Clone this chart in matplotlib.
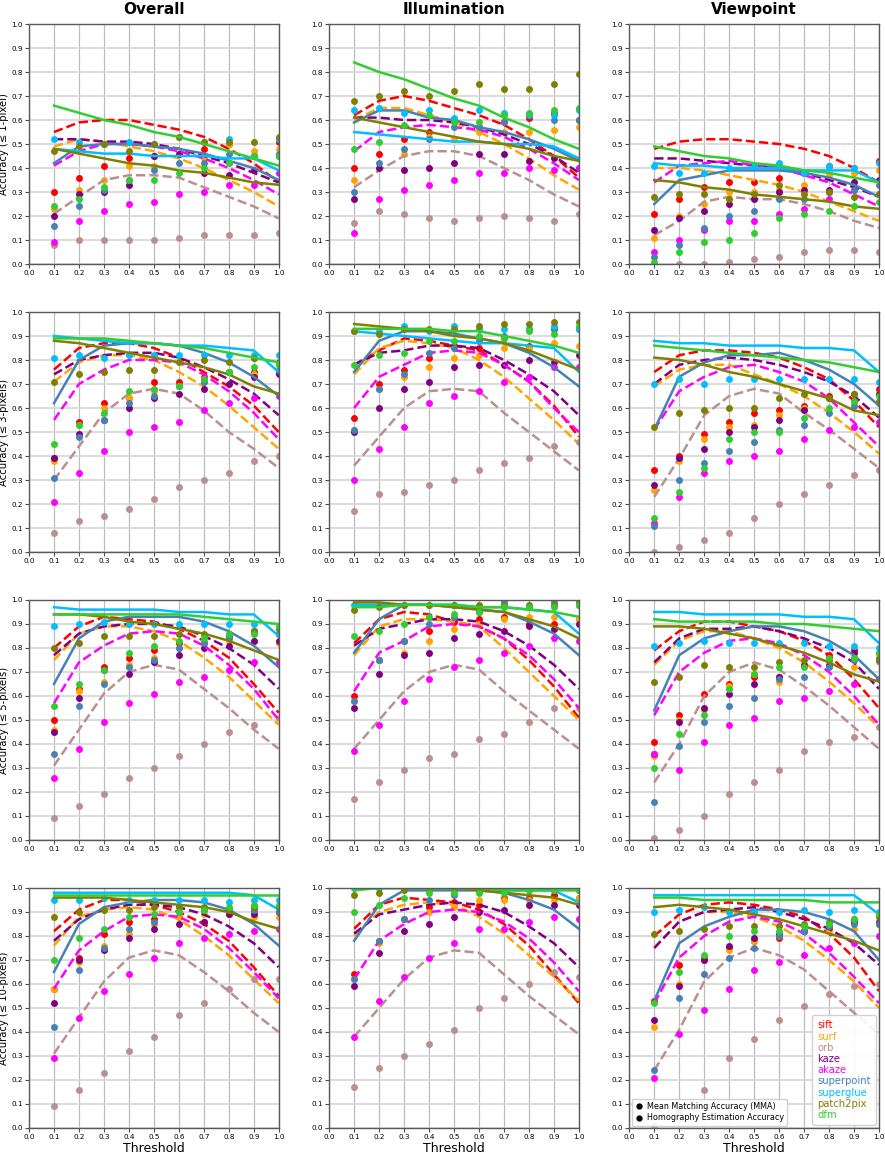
import matplotlib
matplotlib.use("Agg")
import matplotlib.pyplot as plt
from matplotlib.lines import Line2D

thresholds = [0.1, 0.2, 0.3, 0.4, 0.5, 0.6, 0.7, 0.8, 0.9, 1.0]
methods = ["sift", "surf", "orb", "kaze", "akaze", "superpoint", "superglue", "patch2pix", "dfm"]
colors = ["red", "orange", "rosybrown", "purple", "magenta", "steelblue", "deepskyblue", "olive", "limegreen"]
dashed = ["sift", "surf", "orb", "kaze", "akaze"]
columns = ["Overall", "Illumination", "Viewpoint"]
ylabels = ["Accuracy (≤ 1-pixel)", "Accuracy (≤ 3-pixels)", "Accuracy (≤ 5-pixels)", "Accuracy (≤ 10-pixels)"]

# ---------- Mean Matching Accuracy (lines) ----------
mma_overall_1 = {
    "sift": [0.55, 0.59, 0.60, 0.60, 0.58, 0.56, 0.53, 0.48, 0.42, 0.34],
    "surf": [0.49, 0.52, 0.51, 0.49, 0.47, 0.44, 0.40, 0.35, 0.30, 0.24],
    "orb": [0.21, 0.28, 0.35, 0.37, 0.37, 0.36, 0.32, 0.28, 0.24, 0.19],
    "kaze": [0.52, 0.52, 0.51, 0.51, 0.50, 0.48, 0.45, 0.42, 0.38, 0.34],
    "akaze": [0.41, 0.47, 0.50, 0.50, 0.49, 0.47, 0.44, 0.40, 0.35, 0.29],
    "superpoint": [0.42, 0.49, 0.50, 0.50, 0.49, 0.48, 0.46, 0.43, 0.40, 0.35],
    "superglue": [0.48, 0.47, 0.46, 0.46, 0.45, 0.45, 0.45, 0.44, 0.44, 0.39],
    "patch2pix": [0.48, 0.46, 0.44, 0.42, 0.41, 0.39, 0.38, 0.36, 0.34, 0.33],
    "dfm": [0.66, 0.63, 0.60, 0.58, 0.55, 0.53, 0.50, 0.47, 0.44, 0.41],
}
mma_illum_1 = {
    "sift": [0.62, 0.68, 0.70, 0.68, 0.65, 0.62, 0.58, 0.52, 0.45, 0.36],
    "surf": [0.60, 0.65, 0.65, 0.62, 0.59, 0.55, 0.50, 0.44, 0.37, 0.31],
    "orb": [0.32, 0.39, 0.45, 0.47, 0.47, 0.45, 0.40, 0.35, 0.29, 0.24],
    "kaze": [0.61, 0.61, 0.60, 0.60, 0.59, 0.57, 0.54, 0.50, 0.45, 0.38],
    "akaze": [0.47, 0.55, 0.57, 0.58, 0.57, 0.56, 0.53, 0.48, 0.42, 0.35],
    "superpoint": [0.59, 0.64, 0.64, 0.61, 0.60, 0.57, 0.55, 0.52, 0.48, 0.43],
    "superglue": [0.55, 0.54, 0.53, 0.52, 0.51, 0.51, 0.50, 0.50, 0.49, 0.44],
    "patch2pix": [0.61, 0.59, 0.57, 0.55, 0.53, 0.51, 0.50, 0.48, 0.45, 0.43],
    "dfm": [0.84, 0.80, 0.77, 0.73, 0.69, 0.66, 0.61, 0.57, 0.52, 0.48],
}
mma_view_1 = {
    "sift": [0.48, 0.51, 0.52, 0.52, 0.51, 0.50, 0.48, 0.45, 0.40, 0.34],
    "surf": [0.40, 0.40, 0.39, 0.37, 0.35, 0.33, 0.30, 0.26, 0.22, 0.18],
    "orb": [0.12, 0.18, 0.26, 0.28, 0.27, 0.27, 0.25, 0.22, 0.18, 0.15],
    "kaze": [0.44, 0.44, 0.43, 0.42, 0.41, 0.40, 0.38, 0.35, 0.32, 0.28],
    "akaze": [0.34, 0.41, 0.42, 0.43, 0.41, 0.40, 0.37, 0.34, 0.29, 0.24],
    "superpoint": [0.25, 0.35, 0.37, 0.39, 0.39, 0.39, 0.38, 0.36, 0.33, 0.28],
    "superglue": [0.42, 0.41, 0.41, 0.40, 0.40, 0.40, 0.39, 0.39, 0.39, 0.34],
    "patch2pix": [0.35, 0.34, 0.32, 0.31, 0.29, 0.28, 0.27, 0.26, 0.24, 0.23],
    "dfm": [0.49, 0.47, 0.45, 0.44, 0.42, 0.41, 0.39, 0.38, 0.36, 0.34],
}
mma_overall_3 = {
    "sift": [0.76, 0.85, 0.87, 0.87, 0.85, 0.81, 0.75, 0.69, 0.61, 0.50],
    "surf": [0.71, 0.79, 0.82, 0.82, 0.80, 0.75, 0.69, 0.61, 0.52, 0.43],
    "orb": [0.30, 0.44, 0.58, 0.66, 0.68, 0.66, 0.59, 0.50, 0.43, 0.35],
    "kaze": [0.74, 0.80, 0.82, 0.83, 0.83, 0.81, 0.77, 0.72, 0.66, 0.57],
    "akaze": [0.55, 0.70, 0.76, 0.80, 0.80, 0.79, 0.74, 0.67, 0.58, 0.47],
    "superpoint": [0.62, 0.80, 0.86, 0.87, 0.87, 0.86, 0.83, 0.79, 0.73, 0.65],
    "superglue": [0.90, 0.89, 0.88, 0.87, 0.87, 0.86, 0.86, 0.85, 0.84, 0.75],
    "patch2pix": [0.88, 0.87, 0.85, 0.83, 0.81, 0.79, 0.77, 0.74, 0.69, 0.66],
    "dfm": [0.89, 0.89, 0.89, 0.88, 0.87, 0.86, 0.85, 0.83, 0.81, 0.79],
}
mma_illum_3 = {
    "sift": [0.78, 0.84, 0.89, 0.88, 0.86, 0.84, 0.78, 0.71, 0.61, 0.48],
    "surf": [0.74, 0.85, 0.88, 0.87, 0.85, 0.80, 0.73, 0.64, 0.55, 0.45],
    "orb": [0.36, 0.48, 0.60, 0.67, 0.68, 0.67, 0.58, 0.50, 0.42, 0.34],
    "kaze": [0.78, 0.83, 0.84, 0.86, 0.86, 0.85, 0.80, 0.74, 0.67, 0.57],
    "akaze": [0.60, 0.73, 0.78, 0.83, 0.84, 0.83, 0.78, 0.71, 0.60, 0.50],
    "superpoint": [0.75, 0.88, 0.92, 0.92, 0.91, 0.89, 0.87, 0.83, 0.77, 0.69],
    "superglue": [0.92, 0.91, 0.90, 0.89, 0.88, 0.87, 0.87, 0.86, 0.85, 0.75],
    "patch2pix": [0.95, 0.94, 0.93, 0.92, 0.90, 0.89, 0.87, 0.84, 0.80, 0.76],
    "dfm": [0.93, 0.93, 0.93, 0.93, 0.92, 0.92, 0.90, 0.88, 0.86, 0.83],
}
mma_view_3 = {
    "sift": [0.75, 0.82, 0.84, 0.84, 0.83, 0.81, 0.77, 0.72, 0.63, 0.52],
    "surf": [0.69, 0.76, 0.78, 0.78, 0.74, 0.70, 0.65, 0.58, 0.50, 0.41],
    "orb": [0.23, 0.39, 0.57, 0.65, 0.68, 0.66, 0.58, 0.51, 0.43, 0.35],
    "kaze": [0.70, 0.78, 0.80, 0.81, 0.80, 0.78, 0.75, 0.71, 0.65, 0.56],
    "akaze": [0.51, 0.67, 0.73, 0.77, 0.78, 0.75, 0.71, 0.64, 0.54, 0.44],
    "superpoint": [0.51, 0.73, 0.79, 0.82, 0.82, 0.83, 0.80, 0.76, 0.70, 0.61],
    "superglue": [0.88, 0.87, 0.87, 0.86, 0.86, 0.86, 0.85, 0.85, 0.84, 0.75],
    "patch2pix": [0.81, 0.80, 0.78, 0.75, 0.73, 0.70, 0.67, 0.64, 0.59, 0.57],
    "dfm": [0.86, 0.85, 0.84, 0.83, 0.82, 0.81, 0.80, 0.79, 0.77, 0.75],
}
mma_overall_5 = {
    "sift": [0.80, 0.89, 0.93, 0.92, 0.91, 0.88, 0.83, 0.76, 0.65, 0.53],
    "surf": [0.75, 0.86, 0.89, 0.89, 0.87, 0.83, 0.76, 0.68, 0.58, 0.48],
    "orb": [0.31, 0.46, 0.61, 0.70, 0.73, 0.71, 0.63, 0.55, 0.46, 0.38],
    "kaze": [0.77, 0.86, 0.89, 0.90, 0.90, 0.89, 0.85, 0.80, 0.73, 0.63],
    "akaze": [0.57, 0.74, 0.81, 0.86, 0.87, 0.86, 0.81, 0.73, 0.63, 0.50],
    "superpoint": [0.65, 0.84, 0.91, 0.93, 0.93, 0.93, 0.91, 0.87, 0.81, 0.72],
    "superglue": [0.97, 0.96, 0.96, 0.96, 0.96, 0.95, 0.95, 0.94, 0.94, 0.85],
    "patch2pix": [0.94, 0.94, 0.93, 0.91, 0.90, 0.88, 0.86, 0.83, 0.79, 0.75],
    "dfm": [0.94, 0.94, 0.94, 0.94, 0.94, 0.94, 0.93, 0.92, 0.91, 0.90],
}
mma_illum_5 = {
    "sift": [0.82, 0.92, 0.95, 0.94, 0.91, 0.89, 0.84, 0.75, 0.64, 0.51],
    "surf": [0.77, 0.89, 0.92, 0.92, 0.91, 0.89, 0.80, 0.70, 0.60, 0.50],
    "orb": [0.38, 0.50, 0.62, 0.70, 0.73, 0.71, 0.62, 0.54, 0.46, 0.38],
    "kaze": [0.81, 0.88, 0.90, 0.92, 0.92, 0.91, 0.87, 0.81, 0.73, 0.63],
    "akaze": [0.62, 0.78, 0.83, 0.89, 0.90, 0.89, 0.84, 0.77, 0.67, 0.55],
    "superpoint": [0.78, 0.92, 0.98, 0.98, 0.97, 0.96, 0.95, 0.91, 0.86, 0.77],
    "superglue": [0.98, 0.98, 0.98, 0.98, 0.98, 0.97, 0.97, 0.96, 0.95, 0.86],
    "patch2pix": [0.99, 0.99, 0.98, 0.98, 0.97, 0.96, 0.95, 0.92, 0.89, 0.84],
    "dfm": [0.97, 0.97, 0.98, 0.98, 0.98, 0.97, 0.97, 0.96, 0.95, 0.93],
}
mma_view_5 = {
    "sift": [0.79, 0.87, 0.91, 0.91, 0.89, 0.87, 0.83, 0.77, 0.67, 0.55],
    "surf": [0.73, 0.83, 0.87, 0.87, 0.84, 0.80, 0.74, 0.66, 0.57, 0.47],
    "orb": [0.24, 0.40, 0.60, 0.70, 0.74, 0.71, 0.64, 0.56, 0.47, 0.38],
    "kaze": [0.74, 0.84, 0.88, 0.88, 0.89, 0.87, 0.84, 0.80, 0.74, 0.63],
    "akaze": [0.52, 0.70, 0.78, 0.83, 0.84, 0.82, 0.77, 0.70, 0.60, 0.48],
    "superpoint": [0.54, 0.77, 0.84, 0.87, 0.89, 0.89, 0.87, 0.83, 0.77, 0.67],
    "superglue": [0.95, 0.95, 0.94, 0.94, 0.94, 0.94, 0.93, 0.93, 0.92, 0.82],
    "patch2pix": [0.89, 0.89, 0.88, 0.86, 0.84, 0.81, 0.78, 0.74, 0.69, 0.66],
    "dfm": [0.92, 0.91, 0.91, 0.91, 0.91, 0.90, 0.90, 0.89, 0.88, 0.87],
}
mma_overall_10 = {
    "sift": [0.82, 0.91, 0.95, 0.95, 0.93, 0.90, 0.85, 0.78, 0.67, 0.55],
    "surf": [0.76, 0.88, 0.91, 0.92, 0.91, 0.87, 0.80, 0.72, 0.62, 0.52],
    "orb": [0.31, 0.46, 0.61, 0.71, 0.74, 0.72, 0.65, 0.57, 0.48, 0.40],
    "kaze": [0.78, 0.87, 0.91, 0.93, 0.93, 0.92, 0.89, 0.84, 0.77, 0.67],
    "akaze": [0.58, 0.74, 0.82, 0.88, 0.89, 0.88, 0.83, 0.75, 0.65, 0.54],
    "superpoint": [0.65, 0.85, 0.92, 0.94, 0.95, 0.95, 0.94, 0.91, 0.85, 0.76],
    "superglue": [0.98, 0.98, 0.98, 0.98, 0.98, 0.98, 0.98, 0.98, 0.97, 0.91],
    "patch2pix": [0.96, 0.96, 0.96, 0.95, 0.94, 0.93, 0.92, 0.90, 0.86, 0.83],
    "dfm": [0.97, 0.97, 0.97, 0.97, 0.97, 0.97, 0.97, 0.97, 0.97, 0.97],
}
mma_illum_10 = {
    "sift": [0.83, 0.93, 0.96, 0.95, 0.94, 0.91, 0.85, 0.76, 0.64, 0.52],
    "surf": [0.80, 0.90, 0.93, 0.94, 0.93, 0.88, 0.81, 0.72, 0.63, 0.53],
    "orb": [0.38, 0.50, 0.62, 0.71, 0.74, 0.73, 0.64, 0.55, 0.47, 0.39],
    "kaze": [0.81, 0.89, 0.91, 0.93, 0.94, 0.93, 0.90, 0.84, 0.77, 0.67],
    "akaze": [0.62, 0.78, 0.85, 0.90, 0.91, 0.90, 0.86, 0.79, 0.69, 0.57],
    "superpoint": [0.78, 0.93, 0.99, 0.99, 0.99, 0.99, 0.98, 0.95, 0.91, 0.83],
    "superglue": [1.00, 1.00, 1.00, 1.00, 1.00, 1.00, 0.99, 0.99, 0.99, 0.94],
    "patch2pix": [1.00, 1.00, 1.00, 1.00, 1.00, 0.99, 0.98, 0.97, 0.96, 0.93],
    "dfm": [0.99, 1.00, 1.00, 1.00, 1.00, 1.00, 0.99, 0.99, 0.99, 0.99],
}
mma_view_10 = {
    "sift": [0.80, 0.89, 0.93, 0.94, 0.93, 0.91, 0.88, 0.81, 0.71, 0.57],
    "surf": [0.75, 0.86, 0.90, 0.90, 0.88, 0.84, 0.78, 0.70, 0.61, 0.50],
    "orb": [0.24, 0.41, 0.61, 0.71, 0.75, 0.72, 0.66, 0.57, 0.48, 0.39],
    "kaze": [0.75, 0.86, 0.90, 0.91, 0.92, 0.90, 0.87, 0.83, 0.77, 0.68],
    "akaze": [0.52, 0.71, 0.80, 0.86, 0.88, 0.86, 0.81, 0.73, 0.63, 0.52],
    "superpoint": [0.53, 0.77, 0.84, 0.88, 0.91, 0.91, 0.90, 0.87, 0.82, 0.70],
    "superglue": [0.97, 0.97, 0.97, 0.97, 0.97, 0.97, 0.97, 0.97, 0.97, 0.89],
    "patch2pix": [0.92, 0.93, 0.92, 0.91, 0.89, 0.87, 0.84, 0.81, 0.78, 0.74],
    "dfm": [0.96, 0.96, 0.95, 0.95, 0.95, 0.95, 0.95, 0.94, 0.94, 0.94],
}

# ---------- Homography Estimation Accuracy (dots) ----------
hea_overall_1 = {
    "sift": [0.30, 0.36, 0.41, 0.44, 0.45, 0.46, 0.48, 0.50, 0.45, 0.51],
    "surf": [0.23, 0.31, 0.35, 0.41, 0.41, 0.46, 0.44, 0.50, 0.47, 0.48],
    "orb": [0.08, 0.10, 0.10, 0.10, 0.10, 0.11, 0.12, 0.12, 0.12, 0.13],
    "kaze": [0.20, 0.29, 0.30, 0.33, 0.45, 0.46, 0.38, 0.37, 0.39, 0.45],
    "akaze": [0.09, 0.18, 0.22, 0.25, 0.26, 0.29, 0.30, 0.33, 0.33, 0.38],
    "superpoint": [0.16, 0.24, 0.31, 0.35, 0.39, 0.42, 0.42, 0.46, 0.45, 0.46],
    "superglue": [0.52, 0.51, 0.50, 0.51, 0.50, 0.53, 0.51, 0.52, 0.45, 0.52],
    "patch2pix": [0.47, 0.49, 0.50, 0.47, 0.50, 0.53, 0.51, 0.51, 0.51, 0.53],
    "dfm": [0.24, 0.27, 0.32, 0.35, 0.35, 0.38, 0.40, 0.42, 0.45, 0.45],
}
hea_illum_1 = {
    "sift": [0.40, 0.46, 0.52, 0.55, 0.60, 0.57, 0.59, 0.61, 0.63, 0.60],
    "surf": [0.35, 0.65, 0.46, 0.53, 0.52, 0.55, 0.55, 0.55, 0.56, 0.57],
    "orb": [0.17, 0.22, 0.21, 0.19, 0.18, 0.19, 0.20, 0.19, 0.18, 0.21],
    "kaze": [0.27, 0.40, 0.39, 0.40, 0.42, 0.46, 0.46, 0.43, 0.44, 0.40],
    "akaze": [0.13, 0.27, 0.31, 0.33, 0.35, 0.38, 0.38, 0.40, 0.39, 0.40],
    "superpoint": [0.30, 0.42, 0.48, 0.52, 0.57, 0.57, 0.59, 0.62, 0.60, 0.60],
    "superglue": [0.64, 0.65, 0.63, 0.64, 0.61, 0.64, 0.63, 0.62, 0.62, 0.64],
    "patch2pix": [0.68, 0.70, 0.72, 0.70, 0.72, 0.75, 0.73, 0.73, 0.75, 0.79],
    "dfm": [0.48, 0.51, 0.58, 0.62, 0.59, 0.59, 0.62, 0.63, 0.64, 0.65],
}
hea_view_1 = {
    "sift": [0.21, 0.27, 0.32, 0.34, 0.34, 0.36, 0.38, 0.41, 0.40, 0.43],
    "surf": [0.11, 0.20, 0.25, 0.30, 0.30, 0.31, 0.33, 0.37, 0.38, 0.39],
    "orb": [0.00, 0.00, 0.00, 0.01, 0.02, 0.03, 0.05, 0.06, 0.06, 0.05],
    "kaze": [0.14, 0.19, 0.22, 0.25, 0.27, 0.30, 0.31, 0.31, 0.34, 0.35],
    "akaze": [0.05, 0.10, 0.14, 0.18, 0.18, 0.21, 0.23, 0.27, 0.31, 0.29],
    "superpoint": [0.03, 0.08, 0.15, 0.20, 0.22, 0.27, 0.27, 0.30, 0.31, 0.33],
    "superglue": [0.41, 0.38, 0.38, 0.40, 0.41, 0.42, 0.38, 0.41, 0.40, 0.42],
    "patch2pix": [0.28, 0.29, 0.29, 0.27, 0.29, 0.33, 0.29, 0.30, 0.28, 0.29],
    "dfm": [0.01, 0.05, 0.09, 0.10, 0.13, 0.19, 0.21, 0.22, 0.24, 0.26],
}
hea_overall_3 = {
    "sift": [0.39, 0.54, 0.62, 0.64, 0.71, 0.71, 0.73, 0.75, 0.75, 0.75],
    "surf": [0.38, 0.53, 0.60, 0.64, 0.67, 0.69, 0.72, 0.75, 0.74, 0.78],
    "orb": [0.08, 0.13, 0.15, 0.18, 0.22, 0.27, 0.30, 0.33, 0.38, 0.40],
    "kaze": [0.39, 0.49, 0.55, 0.60, 0.64, 0.66, 0.68, 0.70, 0.73, 0.74],
    "akaze": [0.21, 0.33, 0.42, 0.50, 0.52, 0.54, 0.59, 0.62, 0.64, 0.65],
    "superpoint": [0.31, 0.48, 0.55, 0.62, 0.65, 0.69, 0.71, 0.75, 0.81, 0.76],
    "superglue": [0.81, 0.82, 0.81, 0.82, 0.82, 0.82, 0.82, 0.82, 0.82, 0.82],
    "patch2pix": [0.71, 0.74, 0.75, 0.76, 0.76, 0.79, 0.80, 0.79, 0.81, 0.79],
    "dfm": [0.45, 0.53, 0.58, 0.67, 0.68, 0.69, 0.72, 0.75, 0.77, 0.78],
}
hea_illum_3 = {
    "sift": [0.56, 0.70, 0.76, 0.81, 0.86, 0.85, 0.89, 0.86, 0.93, 0.93],
    "surf": [0.51, 0.68, 0.73, 0.77, 0.81, 0.82, 0.85, 0.85, 0.87, 0.86],
    "orb": [0.17, 0.24, 0.25, 0.28, 0.30, 0.34, 0.37, 0.39, 0.44, 0.46],
    "kaze": [0.50, 0.60, 0.68, 0.71, 0.77, 0.78, 0.78, 0.80, 0.79, 0.82],
    "akaze": [0.30, 0.43, 0.52, 0.62, 0.65, 0.67, 0.71, 0.73, 0.77, 0.77],
    "superpoint": [0.51, 0.68, 0.74, 0.83, 0.85, 0.88, 0.90, 0.93, 0.93, 0.93],
    "superglue": [0.92, 0.92, 0.94, 0.92, 0.94, 0.93, 0.93, 0.93, 0.94, 0.93],
    "patch2pix": [0.92, 0.91, 0.93, 0.93, 0.93, 0.94, 0.95, 0.95, 0.96, 0.96],
    "dfm": [0.78, 0.82, 0.83, 0.88, 0.88, 0.90, 0.89, 0.92, 0.91, 0.94],
}
hea_view_3 = {
    "sift": [0.34, 0.40, 0.49, 0.54, 0.58, 0.59, 0.61, 0.65, 0.63, 0.68],
    "surf": [0.26, 0.38, 0.47, 0.52, 0.53, 0.57, 0.60, 0.64, 0.62, 0.66],
    "orb": [0.00, 0.02, 0.05, 0.08, 0.14, 0.20, 0.24, 0.28, 0.32, 0.34],
    "kaze": [0.28, 0.39, 0.43, 0.50, 0.52, 0.55, 0.59, 0.64, 0.66, 0.66],
    "akaze": [0.12, 0.23, 0.33, 0.38, 0.40, 0.42, 0.47, 0.51, 0.52, 0.54],
    "superpoint": [0.11, 0.30, 0.37, 0.42, 0.46, 0.51, 0.53, 0.58, 0.61, 0.62],
    "superglue": [0.70, 0.72, 0.70, 0.72, 0.72, 0.72, 0.72, 0.72, 0.72, 0.71],
    "patch2pix": [0.52, 0.58, 0.59, 0.60, 0.60, 0.64, 0.66, 0.64, 0.66, 0.63],
    "dfm": [0.14, 0.25, 0.35, 0.47, 0.50, 0.50, 0.56, 0.60, 0.63, 0.65],
}
hea_overall_5 = {
    "sift": [0.50, 0.63, 0.72, 0.76, 0.79, 0.82, 0.82, 0.85, 0.87, 0.86],
    "surf": [0.46, 0.62, 0.66, 0.73, 0.76, 0.80, 0.83, 0.83, 0.83, 0.82],
    "orb": [0.09, 0.14, 0.19, 0.26, 0.30, 0.35, 0.40, 0.45, 0.48, 0.51],
    "kaze": [0.45, 0.59, 0.71, 0.69, 0.74, 0.77, 0.80, 0.81, 0.83, 0.83],
    "akaze": [0.26, 0.38, 0.49, 0.57, 0.61, 0.66, 0.68, 0.71, 0.74, 0.74],
    "superpoint": [0.36, 0.56, 0.65, 0.72, 0.75, 0.80, 0.82, 0.84, 0.87, 0.86],
    "superglue": [0.89, 0.90, 0.91, 0.90, 0.90, 0.90, 0.90, 0.90, 0.90, 0.88],
    "patch2pix": [0.80, 0.82, 0.85, 0.85, 0.85, 0.86, 0.86, 0.86, 0.87, 0.88],
    "dfm": [0.56, 0.65, 0.71, 0.78, 0.81, 0.83, 0.84, 0.86, 0.86, 0.89],
}
hea_illum_5 = {
    "sift": [0.60, 0.75, 0.83, 0.87, 0.91, 0.92, 0.93, 0.90, 0.90, 0.92],
    "surf": [0.58, 0.75, 0.78, 0.83, 0.88, 0.90, 0.92, 0.93, 0.93, 0.92],
    "orb": [0.17, 0.24, 0.29, 0.34, 0.36, 0.42, 0.44, 0.49, 0.55, 0.55],
    "kaze": [0.55, 0.69, 0.77, 0.78, 0.84, 0.86, 0.87, 0.89, 0.88, 0.90],
    "akaze": [0.37, 0.48, 0.58, 0.67, 0.72, 0.75, 0.78, 0.81, 0.84, 0.83],
    "superpoint": [0.58, 0.75, 0.83, 0.90, 0.93, 0.95, 0.99, 0.97, 0.99, 0.98],
    "superglue": [0.98, 0.98, 0.98, 0.98, 0.98, 0.97, 0.98, 0.97, 0.98, 0.98],
    "patch2pix": [0.96, 0.97, 0.98, 0.98, 0.98, 0.98, 0.98, 0.98, 0.98, 0.99],
    "dfm": [0.85, 0.87, 0.90, 0.93, 0.94, 0.95, 0.97, 0.97, 0.97, 0.98],
}
hea_view_5 = {
    "sift": [0.41, 0.52, 0.61, 0.65, 0.68, 0.68, 0.73, 0.77, 0.79, 0.78],
    "surf": [0.35, 0.50, 0.54, 0.64, 0.69, 0.66, 0.73, 0.75, 0.72, 0.74],
    "orb": [0.01, 0.04, 0.10, 0.19, 0.24, 0.29, 0.37, 0.41, 0.43, 0.47],
    "kaze": [0.36, 0.49, 0.55, 0.61, 0.65, 0.68, 0.73, 0.73, 0.78, 0.75],
    "akaze": [0.36, 0.29, 0.41, 0.48, 0.51, 0.58, 0.59, 0.62, 0.65, 0.67],
    "superpoint": [0.16, 0.39, 0.49, 0.56, 0.59, 0.67, 0.68, 0.72, 0.75, 0.75],
    "superglue": [0.81, 0.82, 0.83, 0.82, 0.82, 0.82, 0.82, 0.81, 0.81, 0.80],
    "patch2pix": [0.66, 0.68, 0.73, 0.72, 0.72, 0.74, 0.75, 0.75, 0.76, 0.76],
    "dfm": [0.30, 0.44, 0.52, 0.63, 0.69, 0.72, 0.72, 0.76, 0.76, 0.78],
}
hea_overall_10 = {
    "sift": [0.58, 0.71, 0.81, 0.86, 0.87, 0.88, 0.86, 0.89, 0.91, 0.90],
    "surf": [0.58, 0.69, 0.76, 0.81, 0.85, 0.88, 0.89, 0.89, 0.88, 0.88],
    "orb": [0.09, 0.16, 0.23, 0.32, 0.38, 0.47, 0.52, 0.58, 0.62, 0.62],
    "kaze": [0.52, 0.70, 0.74, 0.79, 0.83, 0.85, 0.86, 0.89, 0.89, 0.90],
    "akaze": [0.29, 0.46, 0.57, 0.64, 0.71, 0.77, 0.79, 0.81, 0.82, 0.83],
    "superpoint": [0.42, 0.66, 0.75, 0.83, 0.86, 0.90, 0.91, 0.91, 0.91, 0.90],
    "superglue": [0.95, 0.95, 0.96, 0.95, 0.95, 0.95, 0.95, 0.94, 0.95, 0.95],
    "patch2pix": [0.88, 0.90, 0.91, 0.91, 0.92, 0.92, 0.92, 0.91, 0.92, 0.92],
    "dfm": [0.70, 0.79, 0.83, 0.88, 0.89, 0.90, 0.91, 0.92, 0.93, 0.93],
}
hea_illum_10 = {
    "sift": [0.64, 0.78, 0.87, 0.92, 0.94, 0.93, 0.96, 0.96, 0.97, 0.96],
    "surf": [0.62, 0.77, 0.87, 0.90, 0.92, 0.95, 0.95, 0.95, 0.95, 0.96],
    "orb": [0.17, 0.25, 0.30, 0.35, 0.41, 0.50, 0.54, 0.60, 0.65, 0.63],
    "kaze": [0.59, 0.73, 0.82, 0.85, 0.88, 0.90, 0.91, 0.93, 0.93, 0.93],
    "akaze": [0.38, 0.53, 0.63, 0.71, 0.77, 0.83, 0.83, 0.86, 0.88, 0.87],
    "superpoint": [0.62, 0.78, 0.87, 0.95, 0.97, 0.99, 0.99, 0.99, 0.99, 0.99],
    "superglue": [1.00, 1.00, 1.00, 1.00, 1.00, 1.00, 1.00, 1.00, 1.00, 1.00],
    "patch2pix": [0.97, 0.98, 0.99, 0.99, 0.99, 0.99, 0.99, 0.99, 0.99, 0.99],
    "dfm": [0.90, 0.93, 0.96, 0.98, 0.98, 0.98, 0.98, 0.99, 0.99, 0.99],
}
hea_view_10 = {
    "sift": [0.53, 0.68, 0.71, 0.75, 0.78, 0.79, 0.82, 0.83, 0.86, 0.85],
    "surf": [0.42, 0.60, 0.70, 0.74, 0.78, 0.80, 0.82, 0.82, 0.83, 0.85],
    "orb": [0.01, 0.07, 0.16, 0.29, 0.37, 0.45, 0.51, 0.56, 0.59, 0.60],
    "kaze": [0.45, 0.59, 0.70, 0.76, 0.79, 0.81, 0.82, 0.84, 0.86, 0.86],
    "akaze": [0.21, 0.39, 0.49, 0.58, 0.66, 0.69, 0.72, 0.75, 0.77, 0.80],
    "superpoint": [0.24, 0.54, 0.64, 0.71, 0.75, 0.80, 0.82, 0.84, 0.85, 0.85],
    "superglue": [0.90, 0.91, 0.92, 0.90, 0.90, 0.90, 0.91, 0.90, 0.91, 0.90],
    "patch2pix": [0.81, 0.82, 0.83, 0.84, 0.84, 0.84, 0.85, 0.86, 0.87, 0.88],
    "dfm": [0.52, 0.65, 0.72, 0.80, 0.82, 0.82, 0.84, 0.85, 0.87, 0.89],
}

mma_grid = [
    [mma_overall_1, mma_illum_1, mma_view_1],
    [mma_overall_3, mma_illum_3, mma_view_3],
    [mma_overall_5, mma_illum_5, mma_view_5],
    [mma_overall_10, mma_illum_10, mma_view_10],
]
hea_grid = [
    [hea_overall_1, hea_illum_1, hea_view_1],
    [hea_overall_3, hea_illum_3, hea_view_3],
    [hea_overall_5, hea_illum_5, hea_view_5],
    [hea_overall_10, hea_illum_10, hea_view_10],
]

fig, axes = plt.subplots(4, 3, figsize=(8.85, 11.55), dpi=100)
fig.subplots_adjust(left=0.0328, right=0.9932, top=0.9792, bottom=0.0234,
                    wspace=0.202, hspace=0.2)

ticks = [i / 10 for i in range(11)]
for r in range(4):
    for c in range(3):
        ax = axes[r][c]
        ax.set_axisbelow(True)
        ax.grid(True, axis="x", color="#bdbdbd", linewidth=0.9)
        ax.grid(True, axis="y", color="#d9d9d9", linewidth=1.3)
        for m, col in zip(methods, colors):
            ls = "--" if m in dashed else "-"
            ax.plot(thresholds, mma_grid[r][c][m], color=col, linestyle=ls, linewidth=1.8)
            ax.plot(thresholds, hea_grid[r][c][m], "o", color=col, markersize=5,
                    markeredgewidth=0, linestyle="none")
        ax.set_xlim(0, 1)
        ax.set_ylim(0, 1)
        ax.set_xticks(ticks)
        ax.set_yticks(ticks)
        ax.set_xticklabels([f"{t:.1f}" for t in ticks])
        ax.set_yticklabels([f"{t:.1f}" for t in ticks])
        ax.tick_params(labelsize=5.2, length=3, width=0.8, pad=1.5, color="0.3")
        for s in ax.spines.values():
            s.set_color("0.35")
            s.set_linewidth(1.0)
        if r == 0:
            ax.set_title(columns[c], fontsize=11, fontweight="bold", pad=7)
        if c == 0:
            ax.set_ylabel(ylabels[r], fontsize=7.2, labelpad=2)
        if r == 3:
            ax.set_xlabel("Threshold", fontsize=9, labelpad=1)

last = axes[3][2]
handles = [Line2D([], [], linestyle="none", marker=None) for _ in methods]
leg1 = last.legend(handles, methods, loc="lower right", fontsize=7.2, labelcolor=colors,
                   handlelength=0, handletextpad=0, labelspacing=0.12,
                   borderpad=0.5, borderaxespad=0.3, framealpha=0.9)
last.add_artist(leg1)
h2 = [Line2D([], [], color="black", linestyle="none", marker="o", markersize=3.5),
      Line2D([], [], color="black", linestyle="none", marker="o", markersize=3.5)]
last.legend(h2, ["Mean Matching Accuracy (MMA)", "Homography Estimation Accuracy"],
            loc="lower left", fontsize=5.8, handlelength=1.0, handletextpad=0.5,
            labelspacing=0.3, borderpad=0.4, borderaxespad=0.3, framealpha=0.9)

fig.savefig("out.png", dpi=100)
